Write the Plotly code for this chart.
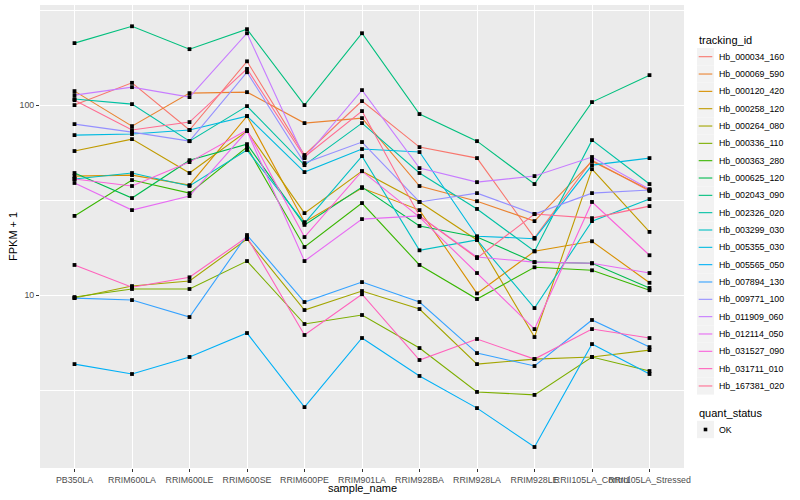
import plotly.graph_objects as go

samples = ["PB350LA", "RRIM600LA", "RRIM600LE", "RRIM600SE", "RRIM600PE", "RRIM901LA",
           "RRIM928BA", "RRIM928LA", "RRIM928LE", "RRII105LA_Control", "RRII105LA_Stressed"]

tracking_ids = ["Hb_000034_160", "Hb_000069_590", "Hb_000120_420", "Hb_000258_120", "Hb_000264_080",
                "Hb_000336_110", "Hb_000363_280", "Hb_000625_120", "Hb_002043_090", "Hb_002326_020",
                "Hb_003299_030", "Hb_005355_030", "Hb_005565_050", "Hb_007894_130", "Hb_009771_100",
                "Hb_011909_060", "Hb_012114_050", "Hb_031527_090", "Hb_031711_010", "Hb_167381_020"]

colors = ["#F8766D", "#EA8331", "#D89000", "#C09B00", "#A3A500", "#7CAE00", "#39B600", "#00BB4E",
          "#00BF7D", "#00C1A3", "#00BFC4", "#00BAE0", "#00B0F6", "#35A2FF", "#9590FF", "#C77CFF",
          "#E76BF3", "#FA62DB", "#FF62BC", "#FF6C91"]

quant_status = ["OK"]

# FPKM + 1 per gene, one value per sample
Hb_000034_160 = [100, 131, 73.9, 170, 54.6, 105, 60.1, 52.6, 20.0, 51.3, 35.3]
Hb_000069_590 = [118.5, 77.5, 115.6, 117, 80.4, 85.4, 37.5, 31.2, 24.5, 50.7, 35.7]
Hb_000120_420 = [42.3, 42.8, 37.9, 87.5, 24.2, 36.6, 28.0, 10.2, 17.0, 19.2, 11.6]
Hb_000258_120 = [57.3, 66.2, 43.9, 73.0, 27.0, 44.9, 30.9, 19.5, 6.01, 46.0, 21.5]
Hb_000264_080 = [9.64, 11.15, 11.85, 19.7, 8.34, 10.5, 8.44, 4.33, 4.60, 4.72, 5.13]
Hb_000336_110 = [9.76, 10.76, 10.76, 15.1, 7.04, 7.85, 5.26, 3.09, 2.98, 4.72, 3.98]
Hb_000363_280 = [26.1, 40.3, 34.4, 60.1, 17.9, 30.5, 14.4, 9.53, 14.0, 13.5, 10.6]
Hb_000625_120 = [43.9, 32.4, 51.3, 62.3, 23.4, 37.0, 23.1, 20.2, 14.9, 14.7, 10.9]
Hb_002043_090 = [212, 260, 197, 251, 100, 239, 89.7, 64.6, 38.4, 103.7, 143.8]
Hb_002326_020 = [107.6, 101.2, 64.6, 98.8, 48.3, 80.4, 43.9, 28.4, 17.0, 65.4, 38.4]
Hb_003299_030 = [40.8, 43.9, 37.5, 58.0, 23.9, 53.9, 17.2, 19.5, 8.54, 24.5, 32.0]
Hb_005355_030 = [69.5, 70.4, 73.9, 87.5, 44.4, 58.7, 56.6, 20.4, 19.8, 48.3, 52.6]
Hb_005565_050 = [4.33, 3.84, 4.72, 6.31, 2.57, 5.94, 3.75, 2.54, 1.585, 5.52, 3.84]
Hb_007894_130 = [9.64, 9.41, 7.66, 20.7, 9.19, 11.7, 9.19, 4.95, 4.23, 7.39, 5.32]
Hb_009771_100 = [79.4, 72.1, 64.6, 149, 49.5, 63.9, 30.9, 34.4, 26.7, 34.4, 35.7]
Hb_011909_060 = [112.9, 124.3, 110.2, 239, 52.6, 119.9, 46.6, 39.3, 42.3, 53.3, 36.1]
Hb_012114_050 = [38.9, 28.0, 33.2, 73.0, 15.1, 25.1, 26.1, 15.85, 14.9, 14.7, 13.06]
Hb_031527_090 = [40.8, 37.5, 50.1, 73.9, 20.2, 44.9, 25.7, 13.06, 6.62, 30.9, 16.2]
Hb_031711_010 = [14.4, 11.0, 12.4, 20.2, 6.16, 10.1, 4.55, 5.87, 4.60, 6.62, 5.94]
Hb_167381_020 = [106.2, 73.9, 81.4, 155, 53.3, 93.0, 26.1, 15.65, 26.7, 25.4, 29.4]

series = [Hb_000034_160, Hb_000069_590, Hb_000120_420, Hb_000258_120, Hb_000264_080,
          Hb_000336_110, Hb_000363_280, Hb_000625_120, Hb_002043_090, Hb_002326_020,
          Hb_003299_030, Hb_005355_030, Hb_005565_050, Hb_007894_130, Hb_009771_100,
          Hb_011909_060, Hb_012114_050, Hb_031527_090, Hb_031711_010, Hb_167381_020]

y_tick_vals = [10, 100]
y_tick_text = ["10", "100"]
y_minor_vals = [10 ** 0.5, 10 ** 1.5, 10 ** 2.5]

FONT = "Liberation Sans, Arial, sans-serif"
W, H = 800, 500
ML, MR, MT, MB = 40, 116, 5, 32
PW, PH = W - ML - MR, H - MT - MB


def px_x(px):
    return (px - ML) / PW


def px_y(py):
    return (H - MB - py) / PH


fig = go.Figure()
for name, vals, col in zip(tracking_ids, series, colors):
    fig.add_trace(go.Scatter(x=samples, y=vals, mode="lines", name=name,
                             line=dict(color=col, width=1.1), showlegend=False))

all_x = [s for vals in series for s in samples]
all_y = [v for vals in series for v in vals]
fig.add_trace(go.Scatter(x=all_x, y=all_y, mode="markers", name=quant_status[0],
                         marker=dict(symbol="square", size=3.8, color="black"),
                         showlegend=False))

# ---- manual ggplot-style legends ----
shapes = []
annotations = []
key_left, key_w, key_h = 697, 17, 17.33
text_left = 717


def add_title(text, cy):
    annotations.append(dict(text=text, x=px_x(key_left), y=px_y(cy), xref="paper", yref="paper",
                            xanchor="left", yanchor="middle", showarrow=False,
                            font=dict(size=11, color="black", family=FONT)))


def add_key(label, cy, kind, col):
    shapes.append(dict(type="rect", xref="paper", yref="paper",
                       x0=px_x(key_left), x1=px_x(key_left + key_w),
                       y0=px_y(cy + key_h / 2), y1=px_y(cy - key_h / 2),
                       fillcolor="#F2F2F2", line=dict(width=0), layer="above"))
    if kind == "line":
        shapes.append(dict(type="line", xref="paper", yref="paper",
                           x0=px_x(key_left + 1.7), x1=px_x(key_left + key_w - 1.7),
                           y0=px_y(cy), y1=px_y(cy), line=dict(color=col, width=1.1),
                           layer="above"))
    else:
        shapes.append(dict(type="rect", xref="paper", yref="paper",
                           x0=px_x(key_left + key_w / 2 - 1.8), x1=px_x(key_left + key_w / 2 + 1.8),
                           y0=px_y(cy + 1.8), y1=px_y(cy - 1.8),
                           fillcolor=col, line=dict(width=0), layer="above"))
    annotations.append(dict(text=label, x=px_x(text_left), y=px_y(cy), xref="paper", yref="paper",
                            xanchor="left", yanchor="middle", showarrow=False,
                            font=dict(size=8.8, color="black", family=FONT)))


add_title("tracking_id", 40)
for i, (name, col) in enumerate(zip(tracking_ids, colors)):
    add_key(name, 56.7 + i * key_h, "line", col)

add_title("quant_status", 413)
add_key(quant_status[0], 429.5, "point", "black")

# axis titles
annotations.append(dict(text="sample_name", x=0.5, y=px_y(488), xref="paper", yref="paper",
                        xanchor="center", yanchor="middle", showarrow=False,
                        font=dict(size=11, color="black", family=FONT)))
annotations.append(dict(text="FPKM + 1", x=px_x(12.5), y=0.5, xref="paper", yref="paper",
                        xanchor="center", yanchor="middle", showarrow=False, textangle=-90,
                        font=dict(size=11, color="black", family=FONT)))

fig.update_layout(
    width=W, height=H,
    margin=dict(l=ML, r=MR, t=MT, b=MB, autoexpand=False),
    paper_bgcolor="white", plot_bgcolor="#EBEBEB",
    font=dict(family=FONT, size=9, color="#4D4D4D"),
    showlegend=False,
    shapes=shapes, annotations=annotations,
)

fig.update_xaxes(
    type="category", categoryorder="array", categoryarray=samples,
    range=[-0.6, len(samples) - 0.4], automargin=False,
    showgrid=True, gridcolor="white", gridwidth=1.1, zeroline=False, showline=False,
    ticks="outside", ticklen=3, tickcolor="#333333", tickwidth=1, tickangle=0,
    tickfont=dict(size=8.8, color="#4D4D4D", family=FONT),
)

fig.update_yaxes(
    type="log", range=[0.0895, 2.527], automargin=False,
    tickmode="array", tickvals=y_tick_vals, ticktext=y_tick_text,
    showgrid=True, gridcolor="white", gridwidth=1.1, zeroline=False, showline=False,
    ticks="outside", ticklen=3, tickcolor="#333333", tickwidth=1,
    tickfont=dict(size=8.8, color="#4D4D4D", family=FONT),
    minor=dict(tickmode="array", tickvals=y_minor_vals, showgrid=True,
               gridcolor="white", gridwidth=0.55, ticklen=0),
)

fig.write_html("out.html", config={"displayModeBar": False},
               post_script="document.body.style.margin='0px';")
